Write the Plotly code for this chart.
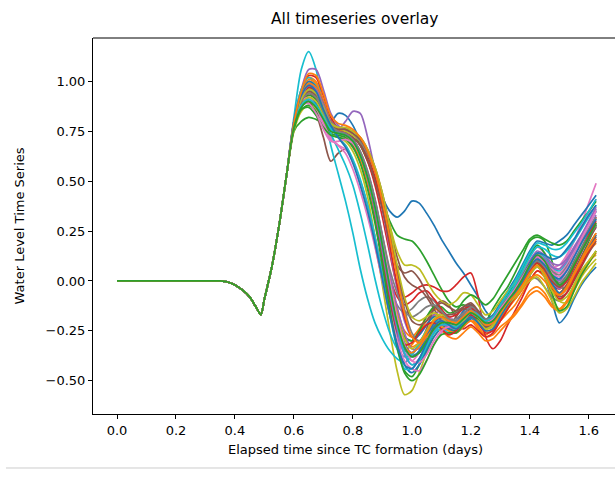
import plotly.graph_objects as go

# Shared part of every run (identical before the surge)
prefix_t = [0.0, 0.1, 0.2, 0.3, 0.35, 0.375, 0.4, 0.425, 0.45, 0.475, 0.4875, 0.5, 0.525, 0.55, 0.575]
prefix_v = [0.0, 0.0, 0.0, 0.0, 0.0, -0.005, -0.02, -0.045, -0.08, -0.14, -0.17, -0.09, 0.07, 0.28, 0.53]

# Time grid (days) for the run-specific part
series_t = [0.600, 0.625, 0.650, 0.675, 0.700, 0.725, 0.750, 0.775, 0.800, 0.825,
            0.850, 0.875, 0.900, 0.925, 0.950, 0.975, 1.000, 1.025, 1.050, 1.075,
            1.100, 1.125, 1.150, 1.175, 1.200, 1.225, 1.250, 1.275, 1.300, 1.325,
            1.350, 1.375, 1.400, 1.425, 1.450, 1.475, 1.500, 1.525, 1.550, 1.575,
            1.600, 1.625]

series_values = [
    [0.77, 0.88, 0.94, 0.91, 0.83, 0.80,
     0.84, 0.83, 0.78, 0.70, 0.61, 0.51, 0.42, 0.35, 0.32, 0.35,
     0.40, 0.39, 0.34, 0.28, 0.21, 0.15, 0.09, 0.04, -0.02, -0.08,
     -0.15, -0.19, -0.16, -0.12, -0.08, -0.02, 0.05, 0.09, 0.02, -0.10,
     -0.21, -0.17, -0.09, -0.02, 0.03, 0.07],
    [0.80, 0.96, 1.02, 1.00, 0.90, 0.78,
     0.72, 0.68, 0.60, 0.49, 0.35, 0.18, 0.00, -0.17, -0.29, -0.35,
     -0.32, -0.26, -0.20, -0.17, -0.20, -0.24, -0.21, -0.16, -0.18, -0.23,
     -0.27, -0.24, -0.20, -0.16, -0.12, -0.06, 0.00, 0.05, 0.02, -0.04,
     -0.06, -0.02, 0.04, 0.10, 0.15, 0.19],
    [0.75, 0.80, 0.82, 0.81, 0.79, 0.77,
     0.76, 0.76, 0.74, 0.68, 0.60, 0.50, 0.40, 0.30, 0.23, 0.21,
     0.20, 0.16, 0.10, 0.03, -0.04, -0.10, -0.13, -0.12, -0.14, -0.18,
     -0.20, -0.14, -0.08, -0.03, 0.04, 0.12, 0.20, 0.22, 0.20, 0.10,
     -0.02, -0.04, 0.04, 0.12, 0.20, 0.28],
    [0.78, 0.92, 0.98, 0.98, 0.90, 0.80,
     0.76, 0.74, 0.72, 0.68, 0.60, 0.48, 0.32, 0.14, -0.02, -0.08,
     -0.06, -0.03, -0.02, -0.03, -0.05, -0.05, -0.02, 0.02, 0.04, -0.08,
     -0.28, -0.34, -0.30, -0.22, -0.15, -0.08, 0.00, 0.05, 0.03, -0.02,
     -0.04, 0.00, 0.08, 0.16, 0.24, 0.32],
    [0.77, 0.90, 0.96, 0.94, 0.86, 0.78,
     0.76, 0.80, 0.85, 0.84, 0.72, 0.55, 0.36, 0.16, -0.04, -0.20,
     -0.28, -0.27, -0.22, -0.17, -0.15, -0.18, -0.20, -0.17, -0.13, -0.16,
     -0.21, -0.20, -0.15, -0.10, -0.06, 0.00, 0.06, 0.10, 0.06, 0.00,
     -0.04, 0.00, 0.07, 0.14, 0.21, 0.27],
    [0.79, 0.88, 0.90, 0.84, 0.72, 0.60,
     0.64, 0.66, 0.60, 0.50, 0.38, 0.22, 0.05, -0.12, -0.26, -0.34,
     -0.36, -0.32, -0.24, -0.14, -0.10, -0.12, -0.18, -0.20, -0.17, -0.20,
     -0.24, -0.22, -0.17, -0.13, -0.09, -0.04, 0.03, 0.08, 0.04, -0.03,
     -0.08, -0.06, 0.00, 0.07, 0.14, 0.20],
    [0.80, 0.92, 0.96, 0.92, 0.82, 0.74,
     0.72, 0.71, 0.67, 0.60, 0.48, 0.32, 0.12, -0.08, -0.25, -0.36,
     -0.40, -0.36, -0.28, -0.20, -0.16, -0.18, -0.21, -0.18, -0.14, -0.16,
     -0.20, -0.18, -0.12, -0.06, -0.01, 0.05, 0.12, 0.17, 0.14, 0.08,
     0.06, 0.12, 0.20, 0.29, 0.39, 0.49],
    [0.78, 0.94, 1.00, 0.98, 0.88, 0.78,
     0.75, 0.73, 0.69, 0.61, 0.49, 0.33, 0.14, -0.02, -0.12, -0.16,
     -0.14, -0.10, -0.08, -0.10, -0.15, -0.20, -0.20, -0.16, -0.15, -0.19,
     -0.23, -0.22, -0.18, -0.13, -0.09, -0.03, 0.04, 0.09, 0.06, 0.01,
     -0.01, 0.03, 0.10, 0.17, 0.24, 0.31],
    [0.75, 0.85, 0.88, 0.86, 0.80, 0.74,
     0.72, 0.70, 0.65, 0.56, 0.42, 0.22, -0.02, -0.25, -0.45, -0.57,
     -0.55, -0.46, -0.36, -0.28, -0.24, -0.24, -0.26, -0.22, -0.17, -0.18,
     -0.22, -0.21, -0.16, -0.11, -0.07, -0.02, 0.04, 0.08, 0.02, -0.08,
     -0.14, -0.10, -0.02, 0.05, 0.10, 0.13],
    [0.82, 1.06, 1.15, 1.06, 0.86, 0.68,
     0.54, 0.40, 0.24, 0.06, -0.09, -0.21, -0.29, -0.35, -0.39, -0.41,
     -0.37, -0.31, -0.25, -0.21, -0.22, -0.25, -0.23, -0.18, -0.17, -0.21,
     -0.24, -0.21, -0.16, -0.11, -0.07, -0.01, 0.07, 0.13, 0.10, 0.04,
     0.01, 0.06, 0.13, 0.21, 0.28, 0.35],
    [0.79, 0.93, 0.99, 0.96, 0.87, 0.79,
     0.76, 0.74, 0.70, 0.63, 0.52, 0.37, 0.18, -0.02, -0.18, -0.28,
     -0.30, -0.27, -0.22, -0.18, -0.19, -0.22, -0.20, -0.15, -0.12, -0.15,
     -0.19, -0.17, -0.11, -0.05, 0.01, 0.08, 0.15, 0.20, 0.19, 0.18,
     0.20, 0.23, 0.28, 0.33, 0.38, 0.43],
    [0.78, 0.90, 0.95, 0.93, 0.86, 0.78,
     0.74, 0.72, 0.69, 0.63, 0.54, 0.40, 0.22, 0.03, -0.14, -0.25,
     -0.28, -0.24, -0.18, -0.14, -0.16, -0.21, -0.24, -0.22, -0.20, -0.24,
     -0.28, -0.27, -0.23, -0.20, -0.16, -0.11, -0.05, -0.03, -0.06, -0.12,
     -0.14, -0.10, -0.03, 0.04, 0.10, 0.15],
    [0.77, 0.86, 0.88, 0.85, 0.79, 0.74,
     0.73, 0.72, 0.68, 0.60, 0.48, 0.31, 0.10, -0.12, -0.32, -0.45,
     -0.48, -0.42, -0.34, -0.26, -0.22, -0.24, -0.25, -0.20, -0.16, -0.18,
     -0.21, -0.19, -0.13, -0.07, -0.01, 0.06, 0.13, 0.18, 0.14, 0.05,
     -0.02, 0.02, 0.09, 0.16, 0.22, 0.28],
    [0.79, 0.95, 1.03, 1.02, 0.93, 0.82,
     0.77, 0.76, 0.74, 0.70, 0.63, 0.52, 0.37, 0.18, -0.02, -0.18,
     -0.28, -0.30, -0.26, -0.21, -0.18, -0.19, -0.22, -0.24, -0.22, -0.25,
     -0.28, -0.26, -0.20, -0.14, -0.08, -0.02, 0.05, 0.10, 0.08, 0.02,
     -0.03, 0.00, 0.07, 0.15, 0.23, 0.30],
    [0.80, 0.96, 1.06, 1.06, 0.96, 0.84,
     0.78, 0.75, 0.71, 0.64, 0.53, 0.38, 0.19, -0.01, -0.19, -0.31,
     -0.36, -0.33, -0.27, -0.21, -0.19, -0.21, -0.22, -0.18, -0.14, -0.17,
     -0.21, -0.20, -0.15, -0.10, -0.05, 0.01, 0.08, 0.12, 0.09, 0.03,
     0.00, 0.05, 0.12, 0.19, 0.26, 0.33],
    [0.78, 0.92, 0.98, 0.96, 0.88, 0.79,
     0.76, 0.76, 0.75, 0.72, 0.66, 0.57, 0.44, 0.28, 0.12, 0.02,
     -0.02, -0.04, -0.08, -0.14, -0.20, -0.22, -0.18, -0.13, -0.12, -0.16,
     -0.20, -0.18, -0.13, -0.09, -0.05, 0.01, 0.07, 0.11, 0.06, -0.02,
     -0.06, -0.02, 0.05, 0.12, 0.18, 0.24],
    [0.78, 0.89, 0.92, 0.88, 0.79, 0.72,
     0.68, 0.64, 0.56, 0.45, 0.32, 0.17, 0.00, -0.16, -0.28, -0.36,
     -0.38, -0.36, -0.30, -0.24, -0.20, -0.19, -0.20, -0.18, -0.16, -0.19,
     -0.23, -0.21, -0.16, -0.11, -0.06, 0.00, 0.07, 0.12, 0.10, 0.07,
     0.08, 0.13, 0.20, 0.27, 0.34, 0.41],
    [0.77, 0.87, 0.90, 0.88, 0.82, 0.76,
     0.74, 0.73, 0.70, 0.64, 0.54, 0.40, 0.21, 0.00, -0.18, -0.31,
     -0.37, -0.36, -0.31, -0.25, -0.21, -0.20, -0.19, -0.16, -0.14, -0.17,
     -0.21, -0.20, -0.15, -0.11, -0.07, -0.02, 0.02, 0.01, -0.03, -0.08,
     -0.10, -0.06, 0.02, 0.10, 0.17, 0.23],
    [0.79, 0.91, 0.95, 0.92, 0.84, 0.77,
     0.76, 0.75, 0.73, 0.70, 0.64, 0.55, 0.42, 0.28, 0.15, 0.08,
     0.08, 0.06, 0.00, -0.06, -0.10, -0.12, -0.10, -0.06, -0.07, -0.12,
     -0.17, -0.15, -0.10, -0.05, -0.01, 0.04, 0.10, 0.14, 0.10, 0.00,
     -0.10, -0.11, -0.05, 0.02, 0.07, 0.11],
    [0.80, 0.96, 1.02, 0.98, 0.86, 0.74,
     0.66, 0.58, 0.48, 0.34, 0.18, 0.01, -0.14, -0.26, -0.34, -0.38,
     -0.37, -0.32, -0.26, -0.21, -0.20, -0.23, -0.24, -0.20, -0.16, -0.18,
     -0.21, -0.19, -0.14, -0.09, -0.04, 0.02, 0.09, 0.14, 0.12, 0.07,
     0.05, 0.09, 0.15, 0.22, 0.29, 0.36],
    [0.77, 0.88, 0.91, 0.89, 0.82, 0.76,
     0.74, 0.73, 0.70, 0.62, 0.50, 0.34, 0.14, -0.08, -0.28, -0.42,
     -0.46, -0.42, -0.35, -0.28, -0.24, -0.24, -0.26, -0.23, -0.19, -0.20,
     -0.23, -0.22, -0.17, -0.12, -0.07, -0.01, 0.06, 0.10, 0.06, -0.01,
     -0.06, -0.03, 0.04, 0.11, 0.17, 0.23],
    [0.79, 0.94, 1.01, 0.99, 0.90, 0.80,
     0.76, 0.74, 0.71, 0.64, 0.53, 0.38, 0.20, 0.01, -0.16, -0.28,
     -0.33, -0.31, -0.27, -0.24, -0.25, -0.28, -0.29, -0.26, -0.23, -0.26,
     -0.30, -0.29, -0.25, -0.21, -0.17, -0.12, -0.07, -0.05, -0.08, -0.13,
     -0.15, -0.11, -0.04, 0.03, 0.09, 0.14],
    [0.77, 0.89, 0.93, 0.91, 0.84, 0.77,
     0.75, 0.74, 0.71, 0.64, 0.53, 0.38, 0.19, -0.01, -0.18, -0.28,
     -0.30, -0.25, -0.18, -0.13, -0.13, -0.16, -0.15, -0.10, -0.07, -0.09,
     -0.12, -0.09, -0.03, 0.03, 0.09, 0.15, 0.21, 0.23, 0.21, 0.19,
     0.18, 0.20, 0.25, 0.30, 0.35, 0.40],
    [0.78, 0.90, 0.94, 0.92, 0.85, 0.78,
     0.75, 0.73, 0.69, 0.62, 0.51, 0.36, 0.18, 0.02, -0.08, -0.12,
     -0.10, -0.06, -0.05, -0.09, -0.14, -0.18, -0.17, -0.14, -0.13, -0.18,
     -0.22, -0.21, -0.16, -0.11, -0.06, 0.00, 0.06, 0.09, 0.04, -0.04,
     -0.09, -0.06, 0.01, 0.08, 0.15, 0.21],
    [0.77, 0.91, 0.97, 0.95, 0.87, 0.78,
     0.75, 0.74, 0.71, 0.65, 0.55, 0.41, 0.23, 0.04, -0.13, -0.26,
     -0.34, -0.34, -0.30, -0.25, -0.22, -0.22, -0.23, -0.20, -0.17, -0.19,
     -0.22, -0.20, -0.15, -0.09, -0.03, 0.03, 0.10, 0.15, 0.13, 0.09,
     0.08, 0.11, 0.17, 0.23, 0.29, 0.35],
    [0.78, 0.92, 0.97, 0.94, 0.86, 0.78,
     0.75, 0.74, 0.72, 0.68, 0.61, 0.50, 0.36, 0.20, 0.08, 0.04,
     0.05, 0.01, -0.06, -0.12, -0.16, -0.17, -0.16, -0.14, -0.15, -0.19,
     -0.23, -0.21, -0.16, -0.12, -0.08, -0.03, 0.03, 0.07, 0.03, -0.04,
     -0.07, -0.04, 0.03, 0.10, 0.16, 0.22],
    [0.80, 0.90, 0.92, 0.87, 0.78, 0.71,
     0.68, 0.66, 0.60, 0.50, 0.37, 0.22, 0.04, -0.14, -0.29, -0.40,
     -0.44, -0.45, -0.40, -0.32, -0.26, -0.22, -0.21, -0.18, -0.15, -0.17,
     -0.20, -0.18, -0.13, -0.08, -0.03, 0.03, 0.09, 0.13, 0.11, 0.06,
     0.04, 0.08, 0.15, 0.22, 0.29, 0.36],
    [0.79, 0.93, 0.99, 0.97, 0.89, 0.80,
     0.77, 0.76, 0.74, 0.70, 0.64, 0.55, 0.42, 0.24, 0.04, -0.14,
     -0.26, -0.30, -0.28, -0.22, -0.20, -0.21, -0.21, -0.17, -0.13, -0.15,
     -0.19, -0.18, -0.13, -0.08, -0.03, 0.03, 0.09, 0.13, 0.10, 0.05,
     0.03, 0.07, 0.13, 0.20, 0.26, 0.32],
    [0.77, 0.88, 0.92, 0.90, 0.83, 0.76,
     0.74, 0.73, 0.70, 0.63, 0.52, 0.37, 0.19, 0.00, -0.17, -0.29,
     -0.34, -0.31, -0.25, -0.19, -0.17, -0.19, -0.21, -0.19, -0.17, -0.20,
     -0.24, -0.23, -0.18, -0.13, -0.09, -0.04, 0.00, 0.02, -0.03, -0.10,
     -0.16, -0.14, -0.08, -0.01, 0.04, 0.09],
    [0.79, 0.92, 0.96, 0.93, 0.85, 0.77,
     0.72, 0.68, 0.61, 0.51, 0.38, 0.22, 0.03, -0.17, -0.34, -0.44,
     -0.44, -0.39, -0.32, -0.26, -0.24, -0.26, -0.26, -0.21, -0.17, -0.19,
     -0.22, -0.20, -0.14, -0.08, -0.02, 0.05, 0.12, 0.17, 0.16, 0.13,
     0.12, 0.15, 0.20, 0.26, 0.32, 0.38],
    [0.80, 0.94, 1.00, 0.97, 0.88, 0.79,
     0.75, 0.73, 0.69, 0.62, 0.51, 0.36, 0.17, -0.04, -0.22, -0.34,
     -0.38, -0.35, -0.28, -0.21, -0.18, -0.20, -0.22, -0.19, -0.15, -0.17,
     -0.21, -0.20, -0.15, -0.10, -0.04, 0.02, 0.09, 0.14, 0.13, 0.11,
     0.12, 0.16, 0.21, 0.27, 0.33, 0.38],
    [0.79, 0.93, 0.99, 0.97, 0.88, 0.79,
     0.75, 0.73, 0.69, 0.61, 0.49, 0.34, 0.15, -0.05, -0.22, -0.33,
     -0.36, -0.33, -0.28, -0.24, -0.23, -0.25, -0.26, -0.23, -0.20, -0.22,
     -0.25, -0.24, -0.19, -0.14, -0.09, -0.04, 0.01, 0.03, 0.00, -0.05,
     -0.07, -0.03, 0.04, 0.11, 0.18, 0.24],
    [0.76, 0.86, 0.87, 0.83, 0.77, 0.73,
     0.72, 0.71, 0.67, 0.59, 0.46, 0.29, 0.08, -0.14, -0.33, -0.46,
     -0.50, -0.47, -0.40, -0.32, -0.27, -0.26, -0.26, -0.22, -0.18, -0.19,
     -0.22, -0.20, -0.15, -0.10, -0.06, -0.01, 0.05, 0.09, 0.04, -0.06,
     -0.15, -0.13, -0.05, 0.03, 0.09, 0.15],
    [0.78, 0.91, 0.97, 0.95, 0.87, 0.78,
     0.75, 0.74, 0.71, 0.64, 0.52, 0.35, 0.14, -0.08, -0.25, -0.32,
     -0.31, -0.26, -0.22, -0.21, -0.24, -0.27, -0.25, -0.20, -0.17, -0.21,
     -0.26, -0.25, -0.20, -0.14, -0.08, -0.02, 0.05, 0.09, 0.06, 0.00,
     -0.03, 0.00, 0.07, 0.15, 0.22, 0.29],
    [0.79, 0.92, 0.98, 0.96, 0.88, 0.79,
     0.75, 0.73, 0.70, 0.63, 0.51, 0.35, 0.15, -0.06, -0.24, -0.37,
     -0.42, -0.39, -0.32, -0.25, -0.22, -0.23, -0.24, -0.20, -0.16, -0.18,
     -0.22, -0.21, -0.16, -0.10, -0.05, 0.01, 0.08, 0.13, 0.11, 0.07,
     0.06, 0.10, 0.16, 0.23, 0.30, 0.37],
    [0.78, 0.90, 0.95, 0.93, 0.86, 0.78,
     0.76, 0.76, 0.74, 0.71, 0.65, 0.56, 0.43, 0.25, 0.06, -0.10,
     -0.20, -0.22, -0.20, -0.14, -0.11, -0.13, -0.15, -0.13, -0.11, -0.15,
     -0.20, -0.19, -0.14, -0.09, -0.05, 0.01, 0.08, 0.12, 0.08, 0.01,
     -0.03, 0.01, 0.08, 0.15, 0.21, 0.27],
    [0.78, 0.88, 0.89, 0.84, 0.76, 0.70,
     0.70, 0.71, 0.69, 0.63, 0.53, 0.39, 0.20, 0.00, -0.18, -0.32,
     -0.40, -0.41, -0.37, -0.30, -0.25, -0.23, -0.22, -0.19, -0.16, -0.18,
     -0.21, -0.19, -0.14, -0.09, -0.04, 0.02, 0.08, 0.12, 0.09, 0.04,
     0.02, 0.06, 0.13, 0.21, 0.28, 0.35],
    [0.78, 0.90, 0.94, 0.92, 0.85, 0.78,
     0.75, 0.74, 0.71, 0.65, 0.55, 0.41, 0.23, 0.06, -0.06, -0.15,
     -0.18, -0.16, -0.13, -0.12, -0.15, -0.19, -0.20, -0.18, -0.16, -0.18,
     -0.22, -0.21, -0.16, -0.11, -0.06, 0.00, 0.06, 0.10, 0.07, 0.01,
     -0.02, 0.02, 0.09, 0.16, 0.22, 0.28],
    [0.78, 0.91, 0.96, 0.94, 0.87, 0.79,
     0.77, 0.77, 0.75, 0.72, 0.66, 0.57, 0.44, 0.27, 0.08, -0.08,
     -0.18, -0.20, -0.18, -0.16, -0.18, -0.22, -0.23, -0.20, -0.18, -0.21,
     -0.24, -0.22, -0.17, -0.12, -0.08, -0.03, 0.03, 0.07, 0.03, -0.05,
     -0.10, -0.08, -0.02, 0.05, 0.10, 0.15],
    [0.78, 0.88, 0.91, 0.88, 0.82, 0.76,
     0.74, 0.73, 0.70, 0.63, 0.52, 0.37, 0.18, -0.03, -0.22, -0.36,
     -0.42, -0.40, -0.33, -0.26, -0.22, -0.22, -0.23, -0.19, -0.15, -0.17,
     -0.20, -0.18, -0.12, -0.06, 0.00, 0.07, 0.14, 0.19, 0.18, 0.16,
     0.16, 0.19, 0.24, 0.29, 0.35, 0.41],
    [0.79, 0.93, 0.98, 0.95, 0.86, 0.78,
     0.72, 0.67, 0.59, 0.48, 0.35, 0.19, 0.01, -0.17, -0.32, -0.42,
     -0.44, -0.39, -0.31, -0.23, -0.20, -0.22, -0.24, -0.21, -0.18, -0.21,
     -0.25, -0.24, -0.18, -0.12, -0.06, 0.00, 0.07, 0.11, 0.08, 0.03,
     0.01, 0.05, 0.12, 0.19, 0.25, 0.31],
    [0.79, 0.95, 1.04, 1.03, 0.94, 0.83,
     0.79, 0.78, 0.76, 0.72, 0.65, 0.55, 0.40, 0.22, 0.02, -0.16,
     -0.28, -0.31, -0.26, -0.20, -0.18, -0.20, -0.21, -0.18, -0.15, -0.18,
     -0.22, -0.21, -0.16, -0.11, -0.07, -0.02, 0.04, 0.08, 0.04, -0.03,
     -0.07, -0.04, 0.03, 0.10, 0.16, 0.21],
    [0.77, 0.87, 0.90, 0.87, 0.81, 0.75,
     0.74, 0.73, 0.70, 0.63, 0.52, 0.37, 0.18, -0.03, -0.21, -0.33,
     -0.38, -0.36, -0.30, -0.24, -0.21, -0.21, -0.22, -0.19, -0.16, -0.18,
     -0.21, -0.20, -0.15, -0.10, -0.05, 0.01, 0.08, 0.13, 0.10, 0.03,
     -0.02, 0.01, 0.08, 0.15, 0.22, 0.29],
]

colors = ["#1f77b4", "#ff7f0e", "#2ca02c", "#d62728", "#9467bd",
          "#8c564b", "#e377c2", "#7f7f7f", "#bcbd22", "#17becf"]

x_tickvals = [0.0, 0.2, 0.4, 0.6, 0.8, 1.0, 1.2, 1.4, 1.6]
x_ticktext = ["0.0", "0.2", "0.4", "0.6", "0.8", "1.0", "1.2", "1.4", "1.6"]
y_tickvals = [-0.5, -0.25, 0.0, 0.25, 0.5, 0.75, 1.0]
y_ticktext = ["\u22120.50", "\u22120.25", "0.00", "0.25", "0.50", "0.75", "1.00"]

fig = go.Figure()
for i, vals in enumerate(series_values):
    assert len(vals) == len(series_t), (i, len(vals))
    fig.add_trace(go.Scatter(
        x=prefix_t + series_t, y=prefix_v + vals, mode="lines",
        line=dict(color=colors[i % 10], width=1.7, shape="spline", smoothing=0.8),
        showlegend=False, hoverinfo="skip"))

FONT = "DejaVu Sans"
fig.update_layout(
    width=615, height=482,
    margin=dict(l=93, r=0, t=38, b=68),
    paper_bgcolor="white", plot_bgcolor="white",
    font=dict(family=FONT, size=13, color="black"),
    xaxis=dict(range=[-0.0814, 1.689], tickvals=x_tickvals, ticktext=x_ticktext,
               ticks="outside", ticklen=4, tickwidth=1, tickcolor="black",
               showline=True, linecolor="black", linewidth=1,
               showgrid=False, zeroline=False, tickfont=dict(size=13)),
    yaxis=dict(range=[-0.667, 1.218], tickvals=y_tickvals, ticktext=y_ticktext,
               ticks="outside", ticklen=4, tickwidth=1, tickcolor="black",
               showline=True, linecolor="black", linewidth=1,
               showgrid=False, zeroline=False, tickfont=dict(size=13)),
    shapes=[
        dict(type="line", xref="paper", yref="paper", x0=0, x1=1, y0=1, y1=1,
             line=dict(color="black", width=1)),
        dict(type="line", xref="paper", yref="paper", x0=-0.1667, x1=1.0, y0=-0.1436, y1=-0.1436,
             line=dict(color="#cccccc", width=1)),
    ],
    annotations=[
        dict(text="All timeseries overlay", xref="paper", yref="paper", x=0.502, y=1.0505,
             xanchor="center", yanchor="middle", showarrow=False, font=dict(size=15.5)),
        dict(text="Elapsed time since TC formation (days)", xref="paper", yref="paper",
             x=0.502, y=-0.0957, xanchor="center", yanchor="middle", showarrow=False,
             font=dict(size=13)),
        dict(text="Water Level Time Series", xref="paper", yref="paper", x=-0.141, y=0.5,
             xanchor="center", yanchor="middle", textangle=-90, showarrow=False,
             font=dict(size=13)),
    ],
)

fig.write_html("out.html",
               config={"displayModeBar": False, "staticPlot": True},
               post_script="document.body.style.margin='0';document.body.style.overflow='hidden';")
